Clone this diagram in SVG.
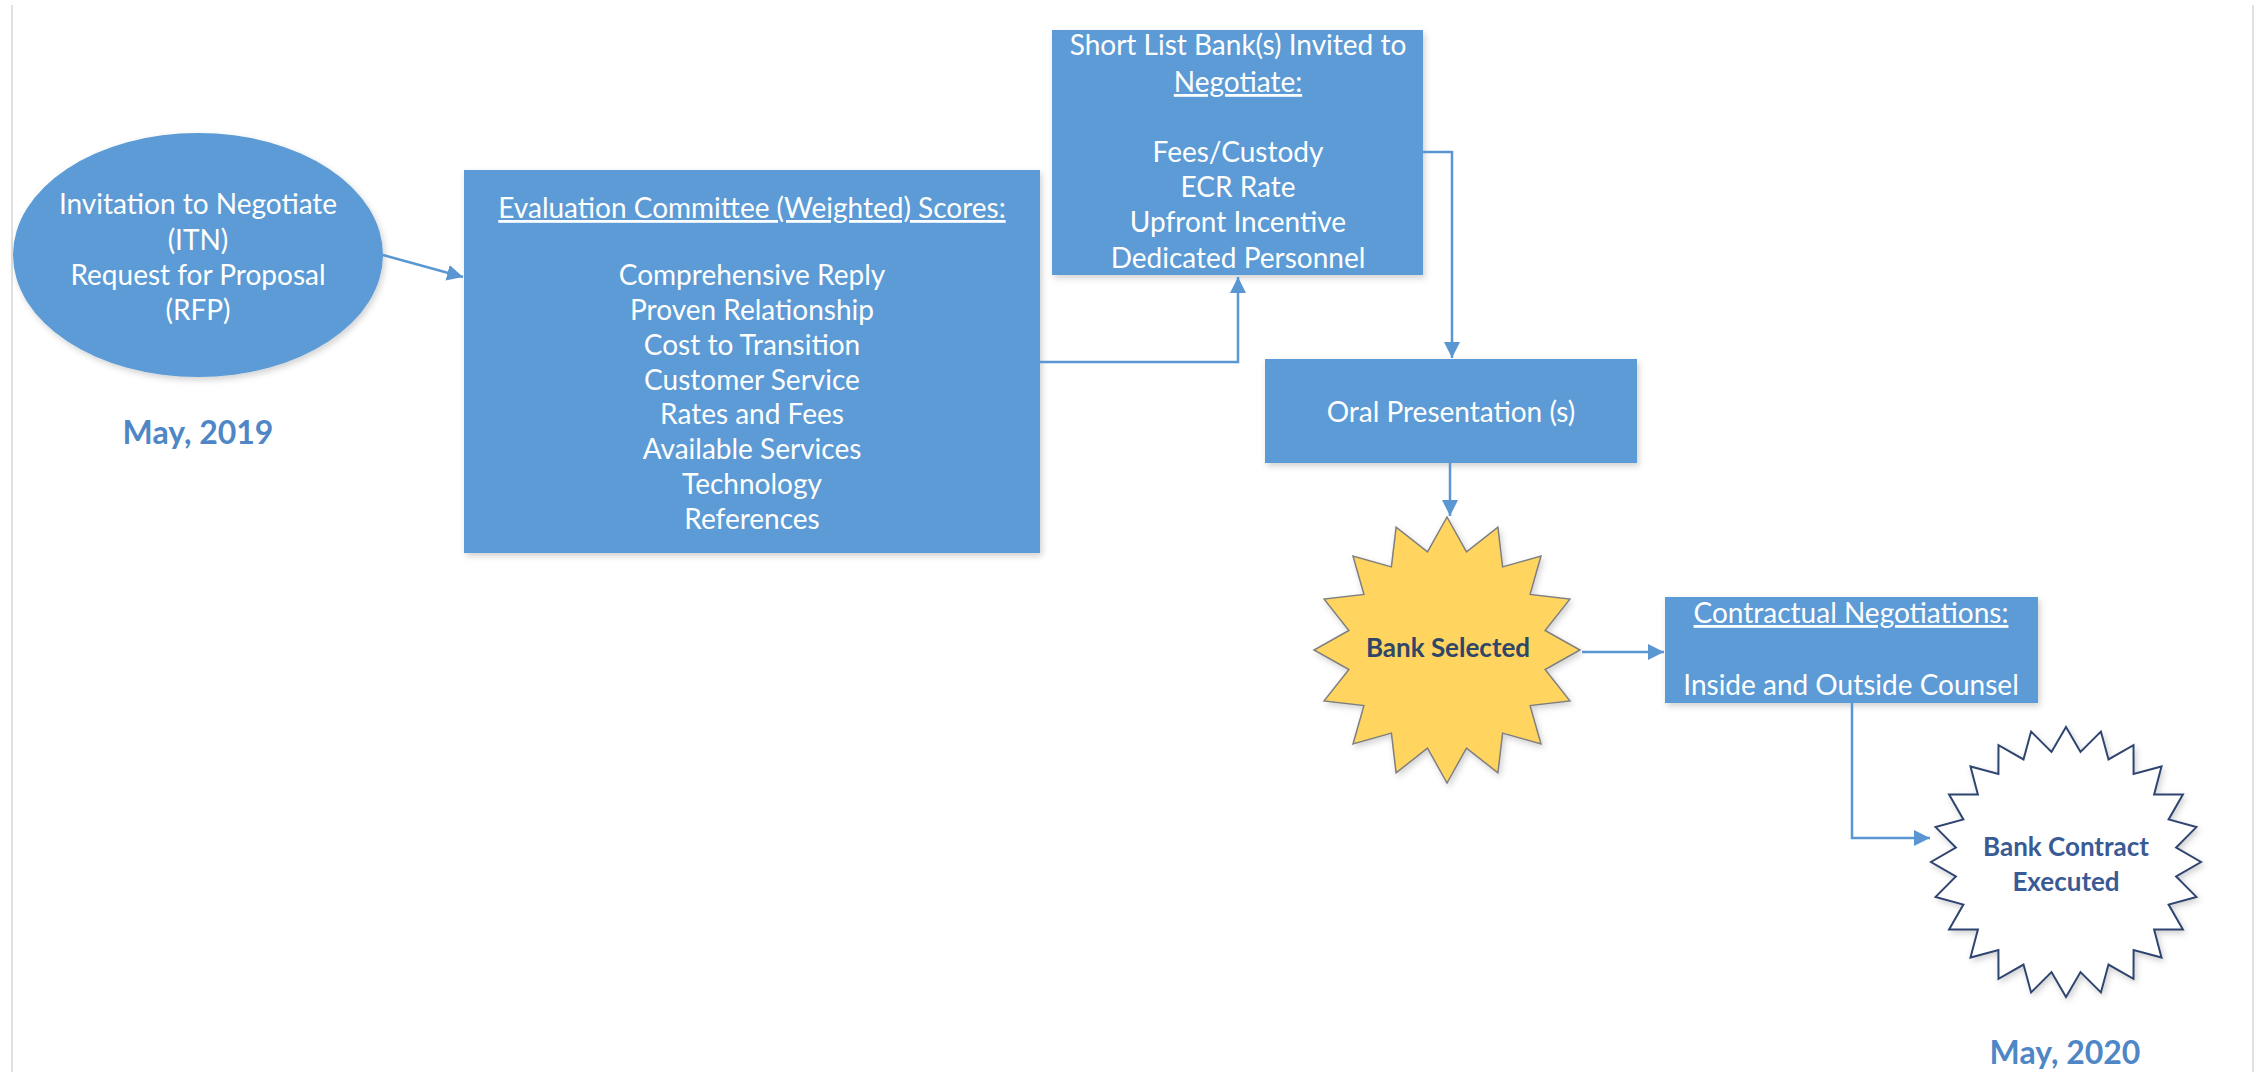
<svg xmlns="http://www.w3.org/2000/svg" width="2259" height="1072" viewBox="0 0 2259 1072">
  <defs>
    <style>
      .box { fill: #5b9bd5; }
      .t { font-family: Lato, "Liberation Sans", sans-serif; font-size: 28px; fill: #ffffff; text-anchor: middle; }
      .u { text-decoration: underline; }
      .date { font-family: Lato, "Liberation Sans", sans-serif; font-size: 32px; font-weight: bold; fill: #4f87c6; text-anchor: middle; }
      .star { font-family: Lato, "Liberation Sans", sans-serif; font-size: 26px; font-weight: bold; text-anchor: middle; }
      .conn { fill: none; stroke: #5a96d2; stroke-width: 2.5; marker-end: url(#arrow); }
      .page { stroke: #e0e0e0; stroke-width: 2; }
    </style>
    <marker id="arrow" markerUnits="userSpaceOnUse" markerWidth="18" markerHeight="18" refX="16" refY="8" orient="auto">
      <path d="M0,0 L16,8 L0,16 z" fill="#5a96d2"/>
    </marker>
    <filter id="sh" x="-10%" y="-10%" width="120%" height="125%">
      <feDropShadow dx="2" dy="3" stdDeviation="3" flood-color="#000000" flood-opacity="0.18"/>
    </filter>
  </defs>

  <rect x="0" y="0" width="2259" height="1072" fill="#ffffff"/>
  <line class="page" x1="12" y1="5" x2="12" y2="1072"/>
  <line class="page" x1="2253" y1="5" x2="2253" y2="1072"/>

  <g id="itn">
    <ellipse class="box" cx="198" cy="255" rx="185" ry="122" filter="url(#sh)"/>
    <text class="t" x="198" y="214">Invitation to Negotiate</text>
    <text class="t" x="198" y="250">(ITN)</text>
    <text class="t" x="198" y="285">Request for Proposal</text>
    <text class="t" x="198" y="320">(RFP)</text>
  </g>

  <g id="date-2019">
    <text class="date" x="198" y="444">May, 2019</text>
  </g>

  <g id="evaluation">
    <rect class="box" x="464" y="170" width="576" height="383" filter="url(#sh)"/>
    <text class="t u" x="752" y="218">Evaluation Committee (Weighted) Scores:</text>
    <text class="t" x="752" y="285">Comprehensive Reply</text>
    <text class="t" x="752" y="320">Proven Relationship</text>
    <text class="t" x="752" y="355">Cost to Transition</text>
    <text class="t" x="752" y="390">Customer Service</text>
    <text class="t" x="752" y="424">Rates and Fees</text>
    <text class="t" x="752" y="459">Available Services</text>
    <text class="t" x="752" y="494">Technology</text>
    <text class="t" x="752" y="529">References</text>
  </g>

  <g id="shortlist">
    <rect class="box" x="1052" y="30" width="371" height="245" filter="url(#sh)"/>
    <text class="t" x="1238" y="55">Short List Bank(s) Invited to</text>
    <text class="t u" x="1238" y="92">Negotiate:</text>
    <text class="t" x="1238" y="162">Fees/Custody</text>
    <text class="t" x="1238" y="197">ECR Rate</text>
    <text class="t" x="1238" y="232">Upfront Incentive</text>
    <text class="t" x="1238" y="268">Dedicated Personnel</text>
  </g>

  <g id="oral">
    <rect class="box" x="1265" y="359" width="372" height="104" filter="url(#sh)"/>
    <text class="t" x="1451" y="422">Oral Presentation (s)</text>
  </g>

  <g id="bank-selected">
    <polygon transform="translate(1447,650)" fill="#ffd45e" stroke="#7f7f7f" stroke-width="1.5" filter="url(#sh)"
      points="0,-133 19.5,-98.1 50.9,-122.9 55.6,-83.1 94,-94 83.1,-55.6 122.9,-50.9 98.1,-19.5 133,0 98.1,19.5 122.9,50.9 83.1,55.6 94,94 55.6,83.1 50.9,122.9 19.5,98.1 0,133 -19.5,98.1 -50.9,122.9 -55.6,83.1 -94,94 -83.1,55.6 -122.9,50.9 -98.1,19.5 -133,0 -98.1,-19.5 -122.9,-50.9 -83.1,-55.6 -94,-94 -55.6,-83.1 -50.9,-122.9 -19.5,-98.1"/>
    <text class="star" x="1448" y="657" fill="#2f4668">Bank Selected</text>
  </g>

  <g id="contractual">
    <rect class="box" x="1665" y="597" width="373" height="106" filter="url(#sh)"/>
    <text class="t u" x="1851" y="623">Contractual Negotiations:</text>
    <text class="t" x="1851" y="695">Inside and Outside Counsel</text>
  </g>

  <g id="executed">
    <polygon transform="translate(2066,862)" fill="#ffffff" stroke="#2f4470" stroke-width="2" filter="url(#sh)"
      points="0,-135 14.5,-110.1 34.9,-130.4 42.5,-102.6 67.5,-116.9 67.6,-88.1 95.5,-95.5 88.1,-67.6 116.9,-67.5 102.6,-42.5 130.4,-34.9 110.1,-14.5 135,0 110.1,14.5 130.4,34.9 102.6,42.5 116.9,67.5 88.1,67.6 95.5,95.5 67.6,88.1 67.5,116.9 42.5,102.6 34.9,130.4 14.5,110.1 0,135 -14.5,110.1 -34.9,130.4 -42.5,102.6 -67.5,116.9 -67.6,88.1 -95.5,95.5 -88.1,67.6 -116.9,67.5 -102.6,42.5 -130.4,34.9 -110.1,14.5 -135,0 -110.1,-14.5 -130.4,-34.9 -102.6,-42.5 -116.9,-67.5 -88.1,-67.6 -95.5,-95.5 -67.6,-88.1 -67.5,-116.9 -42.5,-102.6 -34.9,-130.4 -14.5,-110.1"/>
    <text class="star" x="2066" y="856" fill="#3a5a94">Bank Contract</text>
    <text class="star" x="2066" y="891" fill="#3a5a94">Executed</text>
  </g>

  <g id="date-2020">
    <text class="date" x="2065" y="1064">May, 2020</text>
  </g>

  <g id="connectors">
    <line class="conn" x1="383" y1="255" x2="463" y2="277"/>
    <polyline class="conn" points="1040,362 1238,362 1238,277"/>
    <polyline class="conn" points="1423,152 1452,152 1452,358"/>
    <line class="conn" x1="1450" y1="463" x2="1450" y2="516"/>
    <line class="conn" x1="1582" y1="652" x2="1664" y2="652"/>
    <polyline class="conn" points="1852,703 1852,838 1930,838"/>
  </g>
</svg>
